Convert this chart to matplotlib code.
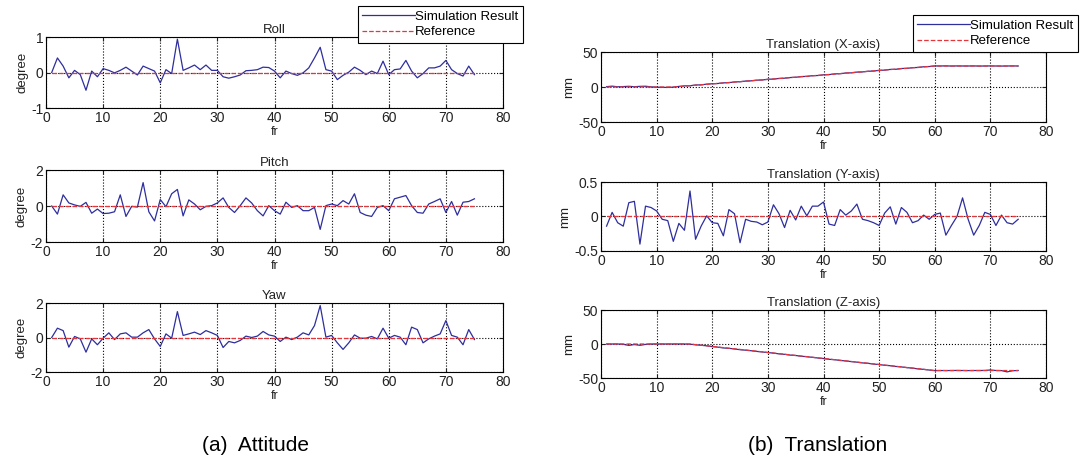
import numpy as np
import matplotlib
matplotlib.use('Agg')
import matplotlib.pyplot as plt

plt.rcParams['font.family'] = ['Liberation Sans', 'DejaVu Sans']

fr = np.arange(1, 76)

# attitude (degree)
roll = [0.0, 0.41, 0.18, -0.15, 0.06, -0.06, -0.5, 0.04, -0.12, 0.11,
        0.06, -0.01, 0.06, 0.15, 0.04, -0.07, 0.18, 0.11, 0.04, -0.29,
        0.08, -0.03, 0.94, 0.06, 0.13, 0.21, 0.08, 0.21, 0.06, 0.06,
        -0.12, -0.16, -0.12, -0.07, 0.05, 0.06, 0.08, 0.15, 0.14, 0.04,
        -0.15, 0.04, -0.03, -0.08, -0.01, 0.13, 0.41, 0.71, 0.08, 0.04,
        -0.2, -0.08, 0.01, 0.15, 0.06, -0.06, 0.04, -0.03, 0.32, -0.06,
        0.08, 0.1, 0.34, 0.04, -0.15, -0.03, 0.13, 0.13, 0.18, 0.34,
        0.08, -0.03, -0.1, 0.18, -0.06]
pitch = [0.0, -0.45, 0.62, 0.17, 0.06, -0.02, 0.2, -0.4, -0.17, -0.42,
         -0.4, -0.32, 0.62, -0.58, -0.02, -0.06, 1.3, -0.32, -0.83, 0.36,
         -0.04, 0.68, 0.92, -0.55, 0.34, 0.11, -0.21, -0.02, 0.02, 0.17,
         0.45, -0.08, -0.36, 0.02, 0.45, 0.17, -0.26, -0.55, 0.02, -0.26,
         -0.45, 0.21, -0.08, 0.02, -0.26, -0.26, -0.08, -1.3, 0.02, 0.11,
         0.02, 0.3, 0.11, 0.68, -0.36, -0.51, -0.58, -0.08, 0.02, -0.26,
         0.4, 0.49, 0.58, 0.02, -0.36, -0.4, 0.11, 0.25, 0.4, -0.36,
         0.25, -0.51, 0.21, 0.25, 0.4]
yaw = [0.0, 0.54, 0.4, -0.56, 0.06, -0.08, -0.85, -0.08, -0.42, -0.04,
       0.27, -0.12, 0.21, 0.27, 0.02, 0.02, 0.27, 0.46, -0.08, -0.52,
       0.21, -0.04, 1.5, 0.12, 0.21, 0.31, 0.17, 0.4, 0.27, 0.12,
       -0.58, -0.23, -0.31, -0.17, 0.08, 0.0, 0.08, 0.35, 0.15, 0.08,
       -0.23, 0.02, -0.12, 0.02, 0.27, 0.15, 0.69, 1.85, 0.02, 0.12,
       -0.31, -0.69, -0.31, 0.15, -0.04, -0.04, 0.06, -0.08, 0.54, -0.04,
       0.12, 0.02, -0.42, 0.6, 0.46, -0.31, -0.08, 0.08, 0.21, 0.98,
       0.12, 0.02, -0.42, 0.46, -0.12]

# translation (mm)
tx = [0.5, 1.2, 0.3, 0.6, 1.0, 0.4, 0.9, 1.1, 0.2, -0.3,
      -0.5, -0.6, -0.2, 0.8, 1.6, 1.7, 2.9, 3.0, 4.1, 4.6,
      5.0, 5.9, 6.2, 7.2, 7.5, 8.5, 8.8, 9.8, 10.0, 11.1,
      11.3, 12.2, 12.6, 13.5, 13.9, 14.9, 15.1, 16.2, 16.4, 17.4,
      17.7, 18.7, 19.0, 20.0, 20.2, 21.3, 21.5, 22.5, 22.8, 23.8,
      24.1, 25.1, 25.3, 26.4, 26.6, 27.6, 27.9, 28.9, 29.2, 30.1,
      30.0, 30.2, 29.9, 30.1, 30.0, 30.0, 30.1, 29.9, 30.0, 30.1,
      30.0, 29.9, 30.0, 30.1, 30.0]
ty = [-0.14, 0.06, -0.09, -0.14, 0.2, 0.22, -0.4, 0.15, 0.13, 0.08,
      -0.04, -0.06, -0.36, -0.1, -0.2, 0.37, -0.33, -0.14, 0.01, -0.09,
      -0.1, -0.28, 0.1, 0.04, -0.38, -0.04, -0.07, -0.08, -0.12, -0.08,
      0.17, 0.04, -0.16, 0.09, -0.05, 0.15, 0.01, 0.15, 0.15, 0.21,
      -0.11, -0.13, 0.1, 0.02, 0.08, 0.18, -0.04, -0.06, -0.09, -0.13,
      0.05, 0.14, -0.11, 0.13, 0.06, -0.09, -0.06, 0.02, -0.04, 0.03,
      0.05, -0.27, -0.13, 0.0, 0.27, -0.04, -0.27, -0.13, 0.06, 0.03,
      -0.13, 0.02, -0.09, -0.11, -0.04]
tz = [0.0, 0.0, 0.0, -0.5, -2.0, -0.8, -1.9, -0.6, 0.0, 0.0,
      0.0, 0.0, 0.0, 0.0, 0.0, -0.3, -1.2, -1.9, -2.6, -3.9,
      -4.6, -5.8, -6.4, -7.3, -8.4, -9.1, -9.9, -10.9, -11.7, -12.6,
      -13.4, -14.5, -15.2, -16.3, -16.9, -18.0, -18.7, -19.6, -20.6, -21.4,
      -22.5, -23.1, -24.2, -24.9, -25.9, -26.7, -27.8, -28.4, -29.5, -30.2,
      -31.3, -31.9, -33.0, -33.7, -34.8, -35.5, -36.6, -37.3, -38.3, -39.2,
      -39.0, -39.1, -39.0, -38.9, -39.0, -39.1, -39.0, -39.0, -38.9, -38.2,
      -39.0, -39.1, -41.0, -39.3, -39.0]

# reference trajectories (break points)
ref_x_fr = [1, 13, 60, 75]
ref_x = [0, 0, 30, 30]
ref_z_fr = [1, 16, 60, 75]
ref_z = [0, 0, -39, -39]

sim_color = '#2e2e9e'
ref_color = '#e8353a'

fig = plt.figure(figsize=(10.82, 4.65), dpi=100)
W, H = 1082.0, 465.0


def make_ax(l, t, r, b):
    return fig.add_axes([l / W, 1 - b / H, (r - l) / W, (b - t) / H])


def style(ax, title, ylab, ylim, yticks):
    ax.set_xlim(0, 80)
    ax.set_xticks(range(0, 81, 10))
    ax.set_ylim(*ylim)
    ax.set_yticks(yticks)
    ax.set_yticklabels([('%g' % v) for v in yticks])
    ax.grid(True, linestyle=':', color='k', linewidth=0.8)
    ax.set_title(title, fontsize=9.5, pad=3, color='#222222')
    ax.set_xlabel('fr', fontsize=9, labelpad=1, color='#222222')
    ax.set_ylabel(ylab, fontsize=9.5, labelpad=2, color='#222222')
    ax.tick_params(labelsize=10, length=3, direction='in', pad=2, colors='#222222',
                   top=True, right=True)
    for s in ax.spines.values():
        s.set_linewidth(0.8)


def add_legend(ax, x, y):
    leg = ax.legend(loc='upper right', bbox_to_anchor=(x / W, 1 - y / H),
                    bbox_transform=fig.transFigure, fontsize=9.5, handlelength=4.0,
                    handletextpad=0.0, borderpad=0.35, labelspacing=0.25,
                    borderaxespad=0, fancybox=False, edgecolor='k', framealpha=1)
    leg.get_frame().set_linewidth(0.8)


att = [('Roll', roll, (-1, 1), [-1, 0, 1], (46, 37, 503, 108)),
       ('Pitch', pitch, (-2, 2), [-2, 0, 2], (46, 170, 503, 242)),
       ('Yaw', yaw, (-2, 2), [-2, 0, 2], (46, 303, 503, 372))]
for title, data, ylim, yt, box in att:
    ax = make_ax(*box)
    ax.plot(fr, data, color=sim_color, lw=0.9, label='Simulation Result')
    ax.plot(fr, np.zeros(len(fr)), '--', color=ref_color, lw=0.9, label='Reference')
    style(ax, title, 'degree', ylim, yt)
    if title == 'Roll':
        add_legend(ax, 523, 6)

trans = [('Translation (X-axis)', tx, ref_x_fr, ref_x, (-50, 50), [-50, 0, 50], (601, 52, 1046, 122)),
         ('Translation (Y-axis)', ty, [1, 75], [0, 0], (-0.5, 0.5), [-0.5, 0, 0.5], (601, 182, 1046, 251)),
         ('Translation (Z-axis)', tz, ref_z_fr, ref_z, (-50, 50), [-50, 0, 50], (601, 310, 1046, 378))]
for title, data, rfr, rv, ylim, yt, box in trans:
    ax = make_ax(*box)
    ax.plot(fr, data, color=sim_color, lw=0.9, label='Simulation Result')
    ax.plot(rfr, rv, '--', color=ref_color, lw=0.9, label='Reference')
    style(ax, title, 'mm', ylim, yt)
    if title.endswith('(X-axis)'):
        add_legend(ax, 1078, 15)

fig.text(255 / W, 1 - 445 / H, '(a)  Attitude', ha='center', va='center', fontsize=15)
fig.text(818 / W, 1 - 445 / H, '(b)  Translation', ha='center', va='center', fontsize=15)

fig.savefig('out.png', dpi=100, facecolor='white')
